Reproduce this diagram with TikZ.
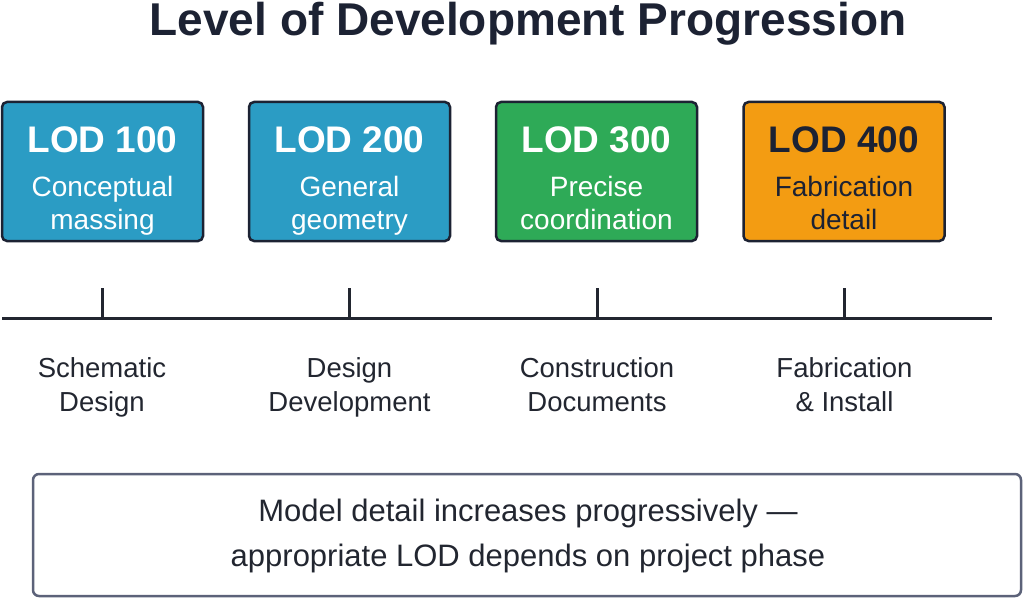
\documentclass[tikz,border=0pt]{standalone}
\usepackage{fontspec}
\setmainfont{Liberation Sans}
\definecolor{lodblue}{HTML}{2B9CC4}
\definecolor{lodgreen}{HTML}{2EAA57}
\definecolor{lodorange}{HTML}{F39C12}
\definecolor{navy}{HTML}{1C2233}
\definecolor{ink}{HTML}{222630}
\definecolor{framegray}{HTML}{5C6279}
\tikzset{
  lodbox/.style={draw=navy, line width=2.5pt, rounded corners=5pt, minimum width=201pt, minimum height=139pt, inner sep=0pt},
  lodtitle/.style={anchor=base, inner sep=0pt, font=\fontsize{37}{40}\selectfont\bfseries},
  lodsub/.style={anchor=base, inner sep=0pt, font=\fontsize{28}{32}\selectfont},
  phase/.style={anchor=base, inner sep=0pt, text=ink, font=\fontsize{27.5}{32}\selectfont},
  notetext/.style={anchor=base, inner sep=0pt, text=ink, font=\fontsize{31}{36}\selectfont},
  axis/.style={draw=ink, line width=3pt},
}
\begin{document}
\begin{tikzpicture}[x=1pt,y=-1pt]
\useasboundingbox (0,0) rectangle (1024,599);
% title
\node[anchor=base, inner sep=0pt, text=navy, font=\fontsize{46}{50}\selectfont\bfseries] (title) at (528,36) {Level of Development Progression};
% boxes
\foreach \i/\x/\col/\tc/\num/\la/\lb in {
  1/102.5/lodblue/white/100/Conceptual/massing,
  2/349.5/lodblue/white/200/General/geometry,
  3/596.5/lodgreen/white/300/Precise/coordination,
  4/844/lodorange/navy/400/Fabrication/detail}{
  \node[lodbox, fill=\col] (box\i) at (\x,171.5) {};
  \node[lodtitle, text=\tc] (lod\i) at (\x,152) {LOD \num};
  \node[lodsub, text=\tc] (suba\i) at (\x,196) {\la};
  \node[lodsub, text=\tc] (subb\i) at (\x,229) {\lb};
}
% timeline
\coordinate (tl) at (2,318.5);
\coordinate (tr) at (992,318.5);
\draw[axis] (tl) -- (tr);
\foreach \i/\x/\la/\lb in {
  1/102/Schematic/Design,
  2/349.5/Design/Development,
  3/597/Construction/Documents,
  4/844.5/Fabrication/\& Install}{
  \coordinate (tick\i) at (\x,288);
  \coordinate (foot\i) at (\x,318.5);
  \draw[axis] (tick\i) -- (foot\i);
  \node[phase] (pha\i) at (\x,377) {\la};
  \node[phase] (phb\i) at (\x,411) {\lb};
}
% note box
\node[draw=framegray, line width=2.5pt, rounded corners=6pt, minimum width=988pt, minimum height=122pt, inner sep=0pt] (note) at (527,535) {};
\node[notetext] (notea) at (528,521) {Model detail increases progressively —};
\node[notetext] (noteb) at (528,566) {appropriate LOD depends on project phase};
\end{tikzpicture}
\end{document}
